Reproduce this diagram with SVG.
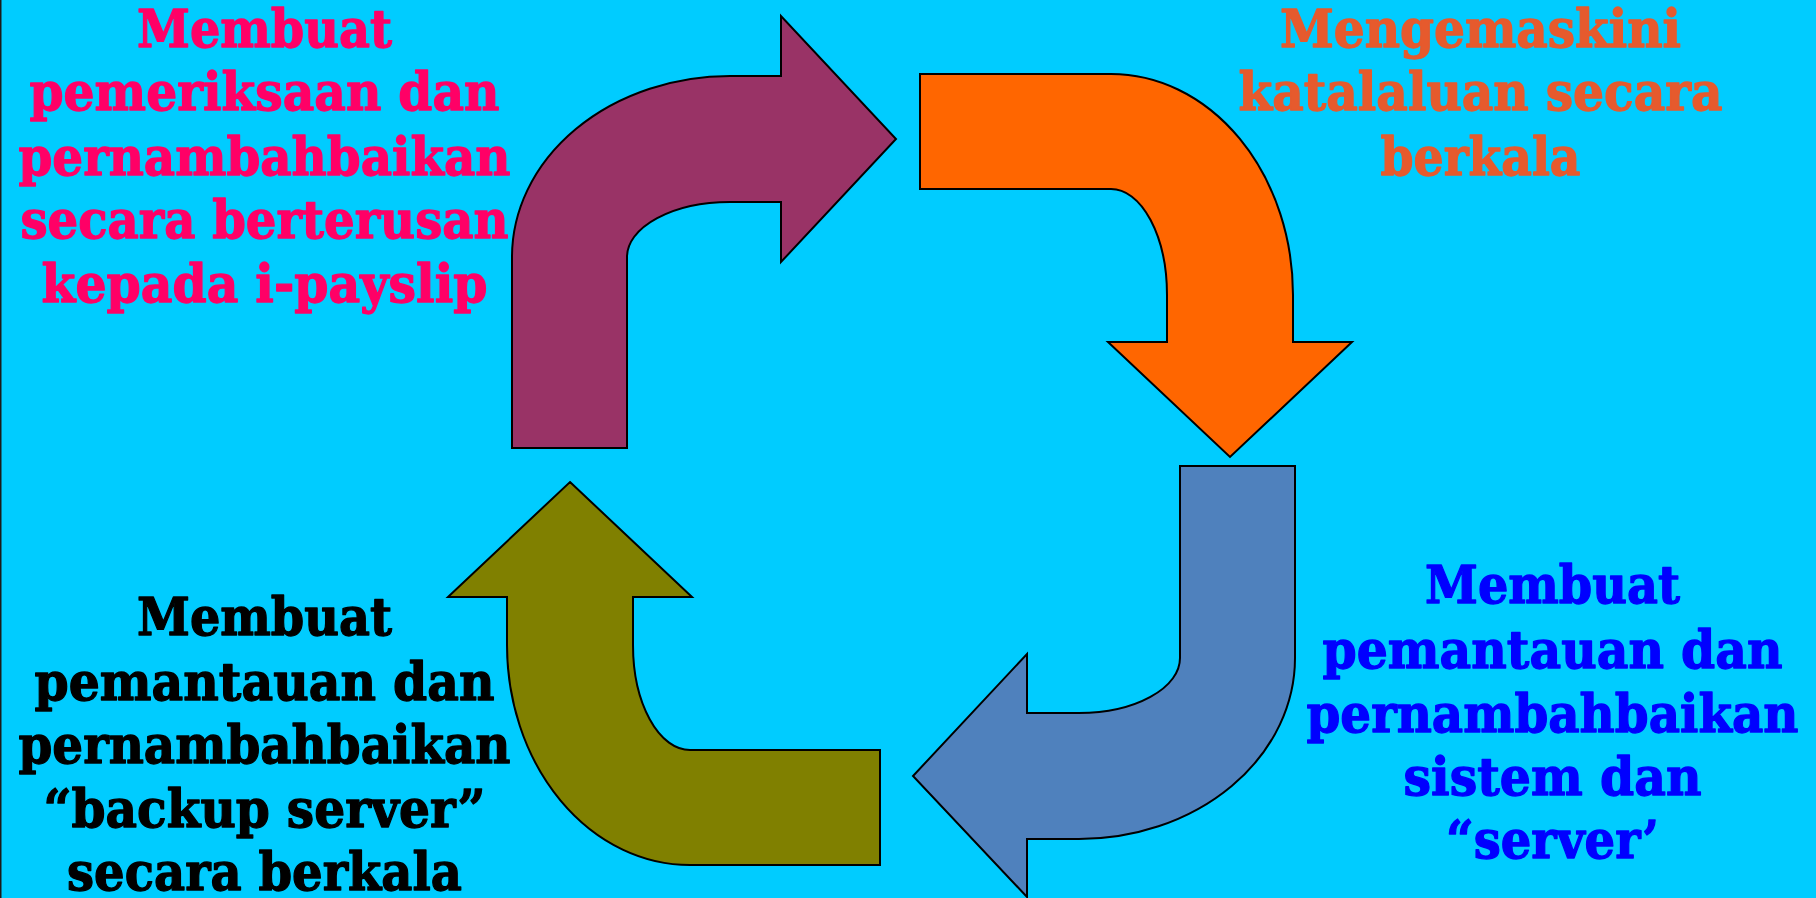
<svg xmlns="http://www.w3.org/2000/svg" width="1816" height="898" viewBox="0 0 1816 898">
  <style>
    .lbl { font-family: "DejaVu Serif", "Liberation Serif", serif; font-weight: bold; font-size: 52px; text-anchor: middle; stroke-width: 1.3; stroke-linejoin: round; }
    .pink { fill: #FF0066; stroke: #FF0066; }
    .rust { fill: #E65A2D; stroke: #E65A2D; }
    .black { fill: #000000; stroke: #000000; }
    .blue { fill: #0000FF; stroke: #0000FF; }
    .arrow { stroke: #000000; stroke-width: 2; stroke-linejoin: miter; }
  </style>

  <!-- backdrop -->
  <rect x="0" y="0" width="1816" height="898" fill="#00CCFF"/>
  <rect x="0" y="0" width="1.5" height="898" fill="#1A1A1A"/>

  <!-- four bent arrows forming the cycle -->
  <g id="connectors">
    <path class="arrow" fill="#993366"
      d="M512,448 L512,257 A218,181 0 0 1 730,76 L781,76 L781,16 L896,139 L781,262 L781,202 L730,202 A103,55 0 0 0 627,257 L627,448 Z"/>
    <path class="arrow" fill="#FF6600"
      d="M920,74 L1111,74 A182,221 0 0 1 1293,295 L1293,342 L1352,342 L1230,457 L1108,342 L1167,342 L1167,295 A56,106 0 0 0 1111,189 L920,189 Z"/>
    <path class="arrow" fill="#4F81BD"
      d="M1180,466 L1295,466 L1295,658 A216,181 0 0 1 1079,839 L1027,839 L1027,897 L913,776 L1027,654 L1027,713 L1079,713 A101,55 0 0 0 1180,658 Z"/>
    <path class="arrow" fill="#808000"
      d="M570,482 L692,597 L633,597 L633,645 A57,105 0 0 0 690,750 L880,750 L880,865 L690,865 A183,220 0 0 1 507,645 L507,597 L448,597 Z"/>
  </g>

  <g id="step-review">
    <text class="lbl pink" x="264.5" y="47" textLength="255" lengthAdjust="spacingAndGlyphs">Membuat</text>
    <text class="lbl pink" x="264.5" y="110" textLength="470" lengthAdjust="spacingAndGlyphs">pemeriksaan dan</text>
    <text class="lbl pink" x="264.5" y="175" textLength="492" lengthAdjust="spacingAndGlyphs">pernambahbaikan</text>
    <text class="lbl pink" x="264.5" y="238" textLength="488" lengthAdjust="spacingAndGlyphs">secara berterusan</text>
    <text class="lbl pink" x="264.5" y="302" textLength="446" lengthAdjust="spacingAndGlyphs">kepada i-payslip</text>
  </g>

  <g id="step-password">
    <text class="lbl rust" x="1480.5" y="47" textLength="401" lengthAdjust="spacingAndGlyphs">Mengemaskini</text>
    <text class="lbl rust" x="1480.5" y="110" textLength="484" lengthAdjust="spacingAndGlyphs">katalaluan secara</text>
    <text class="lbl rust" x="1480.5" y="175" textLength="200" lengthAdjust="spacingAndGlyphs">berkala</text>
  </g>

  <g id="step-server">
    <text class="lbl blue" x="1552.5" y="603" textLength="255" lengthAdjust="spacingAndGlyphs">Membuat</text>
    <text class="lbl blue" x="1552.5" y="668" textLength="460" lengthAdjust="spacingAndGlyphs">pemantauan dan</text>
    <text class="lbl blue" x="1552.5" y="732" textLength="492" lengthAdjust="spacingAndGlyphs">pernambahbaikan</text>
    <text class="lbl blue" x="1552.5" y="795" textLength="298" lengthAdjust="spacingAndGlyphs">sistem dan</text>
    <text class="lbl blue" x="1552.5" y="858" textLength="213" lengthAdjust="spacingAndGlyphs">“server’</text>
  </g>

  <g id="step-backup">
    <text class="lbl black" x="264.5" y="635" textLength="255" lengthAdjust="spacingAndGlyphs">Membuat</text>
    <text class="lbl black" x="264.5" y="700" textLength="460" lengthAdjust="spacingAndGlyphs">pemantauan dan</text>
    <text class="lbl black" x="264.5" y="763" textLength="492" lengthAdjust="spacingAndGlyphs">pernambahbaikan</text>
    <text class="lbl black" x="264.5" y="827" textLength="442" lengthAdjust="spacingAndGlyphs">“backup server”</text>
    <text class="lbl black" x="264.5" y="890" textLength="395" lengthAdjust="spacingAndGlyphs">secara berkala</text>
  </g>
</svg>
